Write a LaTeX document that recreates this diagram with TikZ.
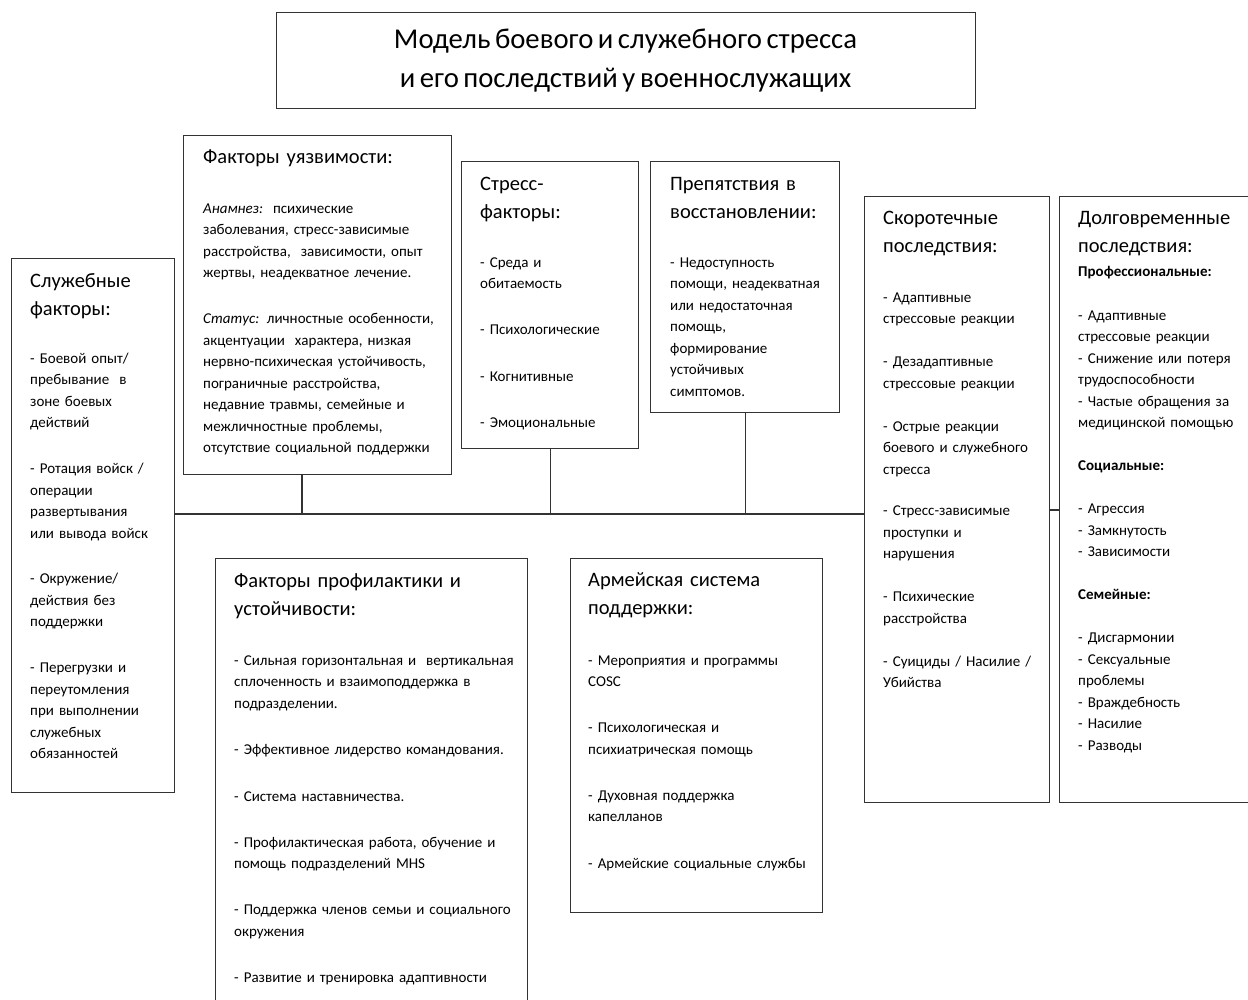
\documentclass[tikz,border=0pt]{standalone}
\usepackage{fontspec}
\setmainfont{Carlito}[WordSpace=0.7]
\begin{document}
\begin{tikzpicture}[x=1pt,y=-1pt,
  box/.style={draw=black!80, line width=1.3pt, fill=none, anchor=north west, inner sep=0pt},
  head/.style={anchor=base west, inner sep=0pt, text width=400pt, align=left, font=\fontsize{20.5}{28.5}\selectfont},
  body/.style={anchor=base west, inner sep=0pt, text width=400pt, align=left, font=\fontsize{15}{21.5}\selectfont},
  link/.style={draw=black!80, line width=1.1pt}]
\useasboundingbox (0,0) rectangle (1248,999);
\clip (0,0) rectangle (1248,999);
% boxes
\node[box, minimum width=699pt, minimum height=96pt] (ti) at (276,12) {};
\node[box, minimum width=163pt, minimum height=534pt] (sf) at (11,258) {};
\node[box, minimum width=268pt, minimum height=339pt] (vf) at (183,135) {};
\node[box, minimum width=177pt, minimum height=287pt] (st) at (461,161) {};
\node[box, minimum width=189pt, minimum height=251pt] (pr) at (650,161) {};
\node[box, minimum width=185pt, minimum height=606pt] (sk) at (864,196) {};
\node[box, minimum width=203pt, minimum height=606pt] (dl) at (1059,196) {};
\node[box, minimum width=312pt, minimum height=452pt] (pf) at (215,558) {};
\node[box, minimum width=252pt, minimum height=354pt] (as) at (570,558) {};
% title
\node[anchor=base, inner sep=0pt, align=center, font=\fontsize{28.7}{39}\selectfont] (tit) at (625.5,87)
  {Модель боевого и служебного стресса\\и его последствий у военнослужащих};
% connectors
\coordinate (hl) at (174,514);
\coordinate (rl) at (1054,510);
\coordinate (vfc) at (302,474);
\draw[link] (sf.east |- hl) -- (sk.west |- hl);
\draw[link] (vfc) -- (vfc |- hl);
\draw[link] (st.south) -- (st.south |- hl);
\draw[link] (pr.south) -- (pr.south |- hl);
\draw[link] (sk.east |- rl) -- (dl.west |- rl);
% Служебные факторы
\node[head] (sf-h) at (30,287) {Служебные\\факторы:};
\node[body] (sf-b) at (30,363) {- Боевой опыт/\\пребывание~~в\\зоне боевых\\действий\\[24.5pt]- Ротация войск /\\операции\\развертывания\\или вывода войск\\[24pt]- Окружение/\\действия без\\поддержки\\[24.5pt]- Перегрузки и\\переутомления\\при выполнении\\служебных\\обязанностей};
% Факторы уязвимости
\node[head] (vf-h) at (203,163) {Факторы уязвимости:};
\node[body] (vf-b) at (203,213) {\textit{Анамнез:}~~психические\\заболевания, стресс-зависимые\\расстройства,~~зависимости, опыт\\жертвы, неадекватное лечение.\\[24.5pt]\textit{Статус:} личностные особенности,\\акцентуации~~характера, низкая\\нервно-психическая устойчивость,\\пограничные расстройства,\\недавние травмы, семейные и\\межличностные проблемы,\\отсутствие социальной поддержки};
% Стресс-факторы
\node[head] (st-h) at (480,190) {Стресс-\\факторы:};
\node[body] (st-b) at (480,267) {- Среда и\\обитаемость\\[24.5pt]- Психологические\\[25pt]- Когнитивные\\[24.5pt]- Эмоциональные};
% Препятствия
\node[head] (pr-h) at (670,190) {Препятствия в\\восстановлении:};
\node[body] (pr-b) at (670,267) {- Недоступность\\помощи, неадекватная\\или недостаточная\\помощь,\\формирование\\устойчивых\\симптомов.};
% Скоротечные
\node[head] (sk-h) at (883,224) {Скоротечные\\последствия:};
\node[body] (sk-b) at (883,302) {- Адаптивные\\стрессовые реакции\\[21.5pt]- Дезадаптивные\\стрессовые реакции\\[21.5pt]- Острые реакции\\боевого и служебного\\стресса\\[20pt]- Стресс-зависимые\\проступки и\\нарушения\\[21.5pt]- Психические\\расстройства\\[21.5pt]- Суициды / Насилие /\\Убийства};
% Долговременные
\node[head] (dl-h) at (1078,224) {Долговременные\\последствия:};
\node[body] (dl-b) at (1078,276) {\textbf{Профессиональные:}\\[22.5pt]- Адаптивные\\стрессовые реакции\\- Снижение или потеря\\трудоспособности\\- Частые обращения за\\медицинской помощью\\[21.5pt]\textbf{Социальные:}\\[21.5pt]- Агрессия\\- Замкнутость\\- Зависимости\\[21.5pt]\textbf{Семейные:}\\[21.5pt]- Дисгармонии\\- Сексуальные\\проблемы\\- Враждебность\\- Насилие\\- Разводы};
% Профилактика
\node[head] (pf-h) at (234,587) {Факторы профилактики и\\устойчивости:};
\node[body] (pf-b) at (234,665) {- Сильная горизонтальная и~~вертикальная\\сплоченность и взаимоподдержка в\\подразделении.\\[25pt]- Эффективное лидерство командования.\\[25pt]- Система наставничества.\\[24.5pt]- Профилактическая работа, обучение и\\помощь подразделений MHS\\[24.5pt]- Поддержка членов семьи и социального\\окружения\\[24.5pt]- Развитие и тренировка адаптивности};
% Армейская система
\node[head] (as-h) at (588,586) {Армейская система\\поддержки:};
\node[body] (as-b) at (588,665) {- Мероприятия и программы\\COSC\\[24.5pt]- Психологическая и\\психиатрическая помощь\\[24.5pt]- Духовная поддержка\\капелланов\\[25pt]- Армейские социальные службы};
\end{tikzpicture}
\end{document}
